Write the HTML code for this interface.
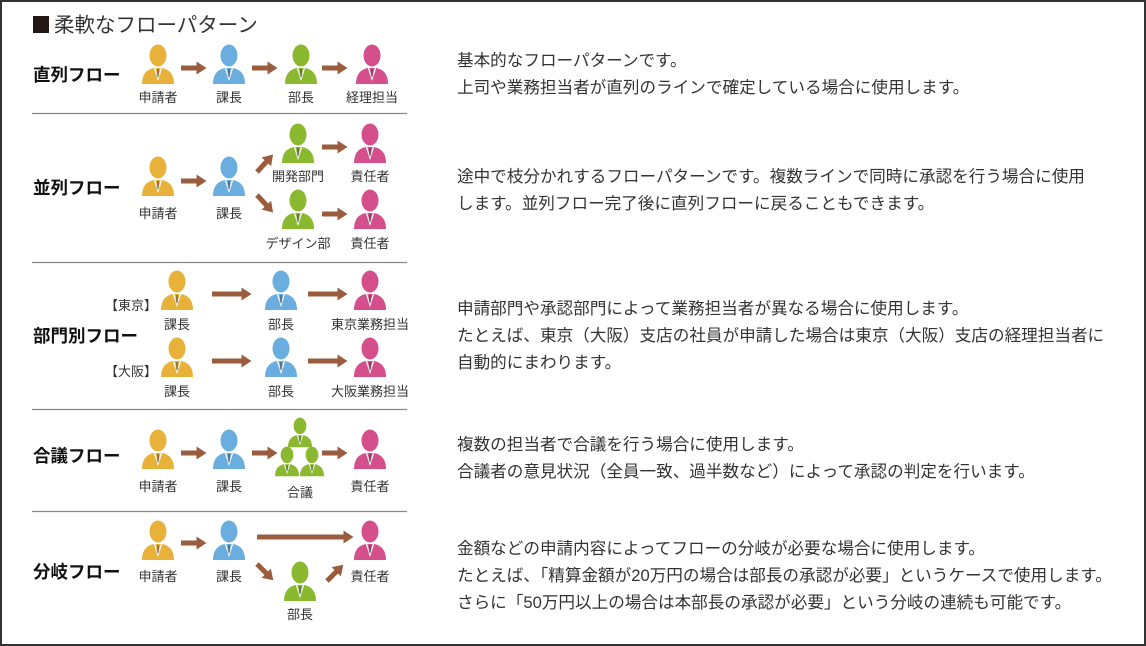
<!DOCTYPE html>
<html><head><meta charset="utf-8"><style>
html,body{margin:0;padding:0;background:#fff}
svg{display:block}
text{font-family:"Liberation Sans","Noto Sans CJK JP",sans-serif}
.l{font-size:13px;fill:#333;text-anchor:middle}
.t{font-size:17.5px;font-weight:bold;fill:#111}
.d{font-size:16.6px;fill:#333}
</style></head><body>
<svg width="1146" height="646" viewBox="0 0 1146 646" xmlns="http://www.w3.org/2000/svg">
<defs>
<g id="p">
<ellipse cx="0" cy="10.5" rx="8.5" ry="11"/>
<path d="M-16,39 C-16,28 -10,24 -4,23 L4,23 C10,24 16,28 16,39 Z"/>
<path d="M-3.5,23 L0,34 L3.5,23" fill="none" stroke="#fff" stroke-width="1.3"/>
<path d="M-1,24 L1,24 L1.3,31 L0,33 L-1.3,31 Z" fill="#333" opacity="0.45"/>
</g>
<marker id="a" markerWidth="3" markerHeight="3" refX="0.5" refY="1.5" orient="auto" markerUnits="strokeWidth"><path d="M0,0.2 L2,1.5 L0,2.8 Z" fill="#9b5b3d"/></marker>
</defs>
<rect x="1" y="1" width="1144" height="644" fill="none" stroke="#333" stroke-width="2"/>
<rect x="33" y="16" width="16" height="17" fill="#231815"/>
<text x="54" y="32" font-size="20.5" fill="#333">柔軟なフローパターン</text>

<g stroke="#888" stroke-width="1.2">
<line x1="32" y1="113.5" x2="407" y2="113.5"/>
<line x1="32" y1="262.5" x2="407" y2="262.5"/>
<line x1="32" y1="409.5" x2="407" y2="409.5"/>
<line x1="32" y1="511.5" x2="407" y2="511.5"/>
</g>

<g stroke="#9b5b3d" stroke-width="5" marker-end="url(#a)" fill="none">
<line x1="181" y1="68" x2="199" y2="68"/><line x1="252" y1="68" x2="270" y2="68"/><line x1="322" y1="68" x2="340" y2="68"/>
<line x1="181" y1="181" x2="199" y2="181"/><line x1="257" y1="172" x2="268" y2="160"/><line x1="257" y1="195" x2="268" y2="207"/>
<line x1="322" y1="147" x2="340" y2="147"/><line x1="322" y1="214" x2="340" y2="214"/>
<line x1="212" y1="294" x2="244" y2="294"/><line x1="308" y1="294" x2="340" y2="294"/>
<line x1="212" y1="361" x2="244" y2="361"/><line x1="308" y1="361" x2="340" y2="361"/>
<line x1="181" y1="453" x2="199" y2="453"/><line x1="252" y1="453" x2="270" y2="453"/><line x1="322" y1="453" x2="340" y2="453"/>
<line x1="181" y1="543" x2="199" y2="543"/><line x1="257" y1="537" x2="346" y2="537"/>
<line x1="257" y1="564" x2="268" y2="575"/><line x1="327" y1="581" x2="338" y2="570"/>
</g>

<g fill="#e8b23a"><use href="#p" x="158" y="45"/><use href="#p" x="158" y="157"/><use href="#p" x="177" y="271"/><use href="#p" x="177" y="338"/><use href="#p" x="158" y="430"/><use href="#p" x="158" y="521"/></g>
<g fill="#6aaee0"><use href="#p" x="229" y="45"/><use href="#p" x="229" y="157"/><use href="#p" x="281" y="271"/><use href="#p" x="281" y="338"/><use href="#p" x="229" y="430"/><use href="#p" x="229" y="521"/></g>
<g fill="#8ab82e"><use href="#p" x="301" y="45"/><use href="#p" x="298" y="124"/><use href="#p" x="298" y="190"/><use href="#p" x="300" y="562"/>
<use href="#p" transform="translate(300,418) scale(0.75)"/><use href="#p" transform="translate(287,447) scale(0.75)"/><use href="#p" transform="translate(312,447) scale(0.75)"/></g>
<g fill="#d44f8c"><use href="#p" x="372" y="45"/><use href="#p" x="370" y="124"/><use href="#p" x="370" y="190"/><use href="#p" x="370" y="271"/><use href="#p" x="370" y="338"/><use href="#p" x="370" y="430"/><use href="#p" x="370" y="521"/></g>

<g class="l">
<text x="158" y="102">申請者</text><text x="229" y="102">課長</text><text x="301" y="102">部長</text><text x="372" y="102">経理担当</text>
<text x="158" y="218">申請者</text><text x="229" y="218">課長</text><text x="298" y="181">開発部門</text><text x="370" y="181">責任者</text><text x="298" y="248">デザイン部</text><text x="370" y="248">責任者</text>
<text x="131" y="310">【東京】</text><text x="177" y="329">課長</text><text x="281" y="329">部長</text><text x="370" y="329">東京業務担当</text>
<text x="131" y="376">【大阪】</text><text x="177" y="396">課長</text><text x="281" y="396">部長</text><text x="370" y="396">大阪業務担当</text>
<text x="158" y="491">申請者</text><text x="229" y="491">課長</text><text x="300" y="497">合議</text><text x="370" y="491">責任者</text>
<text x="158" y="581">申請者</text><text x="229" y="581">課長</text><text x="370" y="581">責任者</text><text x="300" y="619">部長</text>
</g>
<g class="t">
<text x="33" y="81">直列フロー</text><text x="33" y="194">並列フロー</text><text x="33" y="342">部門別フロー</text><text x="33" y="462">合議フロー</text><text x="33" y="578">分岐フロー</text>
</g>
<g class="d">
<text x="457" y="66">基本的なフローパターンです。</text>
<text x="457" y="93">上司や業務担当者が直列のラインで確定している場合に使用します。</text>
<text x="457" y="182">途中で枝分かれするフローパターンです。複数ラインで同時に承認を行う場合に使用</text>
<text x="457" y="209">します。並列フロー完了後に直列フローに戻ることもできます。</text>
<text x="457" y="314">申請部門や承認部門によって業務担当者が異なる場合に使用します。</text>
<text x="457" y="341">たとえば、東京（大阪）支店の社員が申請した場合は東京（大阪）支店の経理担当者に</text>
<text x="457" y="368">自動的にまわります。</text>
<text x="457" y="450">複数の担当者で合議を行う場合に使用します。</text>
<text x="457" y="477">合議者の意見状況（全員一致、過半数など）によって承認の判定を行います。</text>
<text x="457" y="554">金額などの申請内容によってフローの分岐が必要な場合に使用します。</text>
<text x="457" y="581">たとえば、「精算金額が20万円の場合は部長の承認が必要」というケースで使用します。</text>
<text x="457" y="608">さらに「50万円以上の場合は本部長の承認が必要」という分岐の連続も可能です。</text>
</g>
</svg>
</body></html>
